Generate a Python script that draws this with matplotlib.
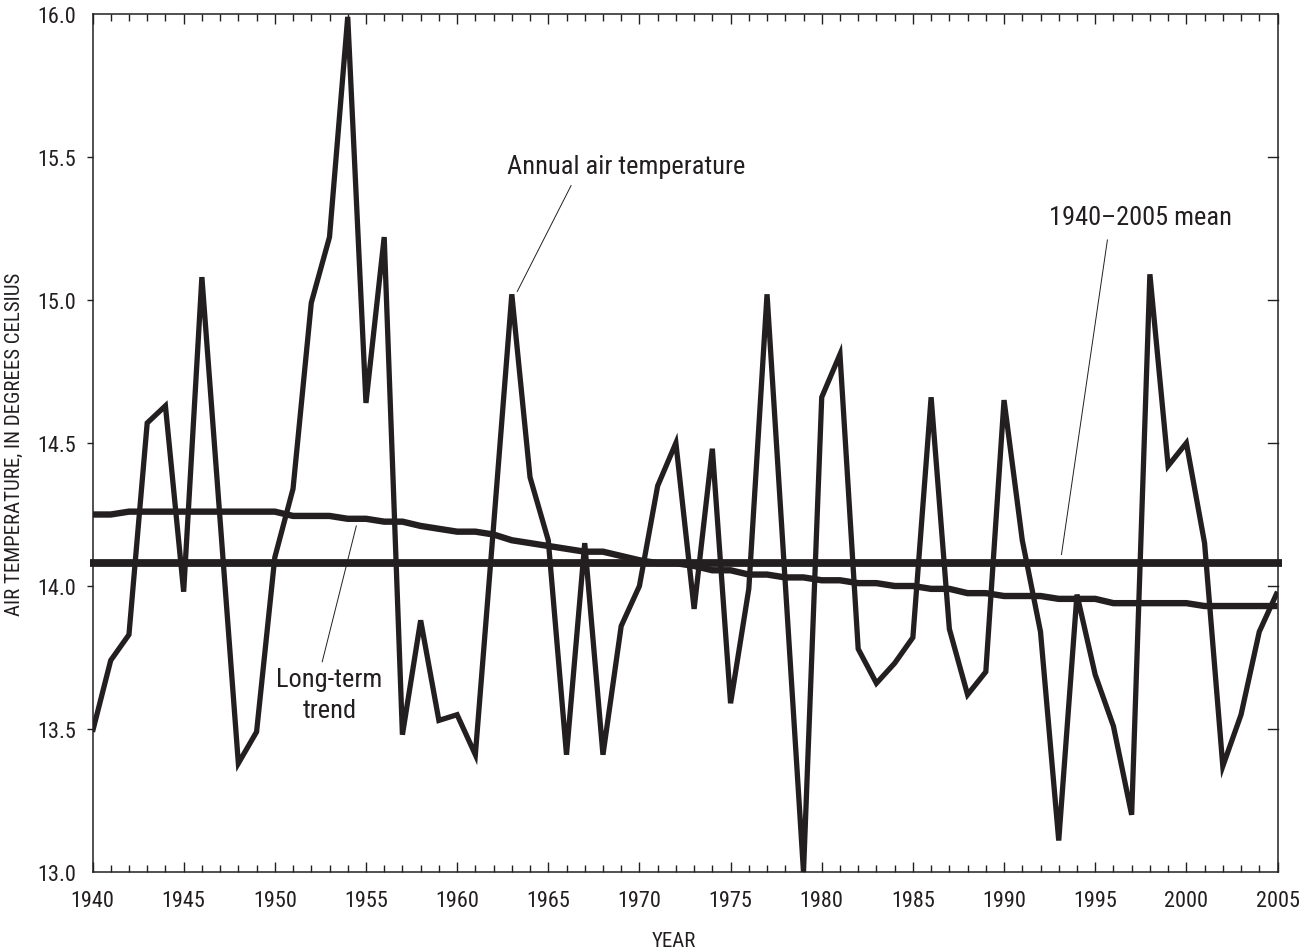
import matplotlib
matplotlib.use("Agg")
import matplotlib.pyplot as plt
from matplotlib import font_manager
from matplotlib.ticker import MultipleLocator

# ---------------- data ----------------
years = list(range(1940, 2006))
annual_temp = [
    13.49, 13.74, 13.83, 14.57, 14.63, 13.98, 15.08, 14.23, 13.38, 13.49,   # 1940s
    14.10, 14.34, 14.99, 15.22, 15.99, 14.64, 15.22, 13.48, 13.88, 13.53,   # 1950s
    13.55, 13.41, 14.21, 15.02, 14.38, 14.16, 13.41, 14.15, 13.41, 13.86,   # 1960s
    14.00, 14.35, 14.50, 13.92, 14.48, 13.59, 13.99, 15.02, 14.01, 13.00,   # 1970s
    14.66, 14.81, 13.78, 13.66, 13.73, 13.82, 14.66, 13.85, 13.62, 13.70,   # 1980s
    14.65, 14.16, 13.84, 13.11, 13.97, 13.69, 13.51, 13.20, 15.09, 14.42,   # 1990s
    14.50, 14.15, 13.37, 13.55, 13.84, 13.98,                               # 2000s
]
trend_temp = [
    14.25, 14.25, 14.26, 14.26, 14.26, 14.26, 14.26, 14.26, 14.26, 14.26,
    14.26, 14.245, 14.245, 14.245, 14.235, 14.235, 14.225, 14.225, 14.21, 14.20,
    14.19, 14.19, 14.18, 14.16, 14.15, 14.14, 14.13, 14.12, 14.12, 14.105,
    14.09, 14.08, 14.08, 14.07, 14.055, 14.055, 14.04, 14.04, 14.03, 14.03,
    14.02, 14.02, 14.01, 14.01, 14.00, 14.00, 13.99, 13.99, 13.975, 13.975,
    13.965, 13.965, 13.965, 13.955, 13.955, 13.955, 13.94, 13.94, 13.94, 13.94,
    13.94, 13.93, 13.93, 13.93, 13.93, 13.93,
]
mean_temp = 14.08
x_tick_labels = ["1940", "1945", "1950", "1955", "1960", "1965", "1970",
                 "1975", "1980", "1985", "1990", "1995", "2000", "2005"]
y_tick_labels = ["13.0", "13.5", "14.0", "14.5", "15.0", "15.5", "16.0"]

# ---------------- style ----------------
available = {f.name for f in font_manager.fontManager.ttflist}
family = "DejaVu Sans"
for cand in ["Roboto Condensed", "Liberation Sans Narrow", "Open Sans Condensed",
             "Liberation Sans", "Roboto"]:
    if cand in available:
        family = cand
        break
plt.rcParams["font.family"] = [family, "DejaVu Sans"]
INK = "#231f20"

fig = plt.figure(figsize=(13.10, 9.53), dpi=100)
L, R, T, B = 92.5, 1277.5, 15.0, 873.0
W, H = 1310.0, 953.0
ax = fig.add_axes([L / W, 1 - B / H, (R - L) / W, (B - T) / H])

ax.plot(years, annual_temp, color=INK, lw=3.8, solid_joinstyle="miter",
        solid_capstyle="butt", zorder=3)
ax.plot(years, trend_temp, color=INK, lw=4.6, solid_joinstyle="round",
        solid_capstyle="butt", zorder=3)
ax.axhline(mean_temp, xmin=-0.002, xmax=1.004, color=INK, lw=5.6,
           solid_capstyle="butt", clip_on=False, zorder=3)

ax.set_xlim(1940, 2005)
ax.set_ylim(13.0, 16.0)

# ticks
ax.set_xticks([int(s) for s in x_tick_labels])
ax.set_xticklabels(x_tick_labels)
ax.xaxis.set_minor_locator(MultipleLocator(1))
ax.set_yticks([float(s) for s in y_tick_labels])
ax.set_yticklabels(y_tick_labels)

ax.tick_params(axis="x", which="major", direction="in", top=True, bottom=True,
               length=7.5, width=1.0, color=INK, labelsize=16, labelcolor=INK, pad=13)
ax.tick_params(axis="x", which="minor", direction="in", top=True, bottom=True,
               length=5, width=1.0, color=INK)
ax.tick_params(axis="y", which="major", direction="out", left=True, right=False,
               length=4, width=1.0, color=INK, labelsize=16, labelcolor=INK, pad=8)
# right-side inward ticks
for yv in [float(s) for s in y_tick_labels][1:-1]:
    ax.plot([1.0, 0.9924], [yv, yv], transform=ax.get_yaxis_transform(),
            color=INK, lw=1.0, clip_on=False, zorder=2)
ticks = ax.yaxis.get_major_ticks()
ticks[0].tick1line.set_visible(False)
ticks[-1].tick1line.set_visible(False)

for sp in ax.spines.values():
    sp.set_linewidth(1.1)
    sp.set_color(INK)

# axis labels
fig.text(14 / W, 1 - 444 / H, "AIR TEMPERATURE, IN DEGREES CELSIUS", rotation=90,
         ha="center", va="center", fontsize=15, color=INK)
fig.text(674 / W, 1 - 942 / H, "YEAR", ha="center", va="center", fontsize=15, color=INK)

# annotations
ax.text(1969.3, 15.47, "Annual air temperature", ha="center", va="center",
        fontsize=19, color=INK)
ax.plot([1966.25, 1963.3], [15.40, 15.03], color=INK, lw=0.7, zorder=4)

ax.text(1997.5, 15.29, "1940\u20132005 mean", ha="center", va="center",
        fontsize=19, color=INK)
ax.plot([1995.67, 1993.15], [15.21, 14.11], color=INK, lw=0.7, zorder=4)

ax.text(1953.0, 13.676, "Long-term", ha="center", va="center", fontsize=19, color=INK)
ax.text(1953.0, 13.567, "trend", ha="center", va="center", fontsize=19, color=INK)
ax.plot([1952.6, 1954.47], [13.735, 14.21], color=INK, lw=0.7, zorder=4)

fig.savefig("out.png", dpi=100, facecolor="white")
